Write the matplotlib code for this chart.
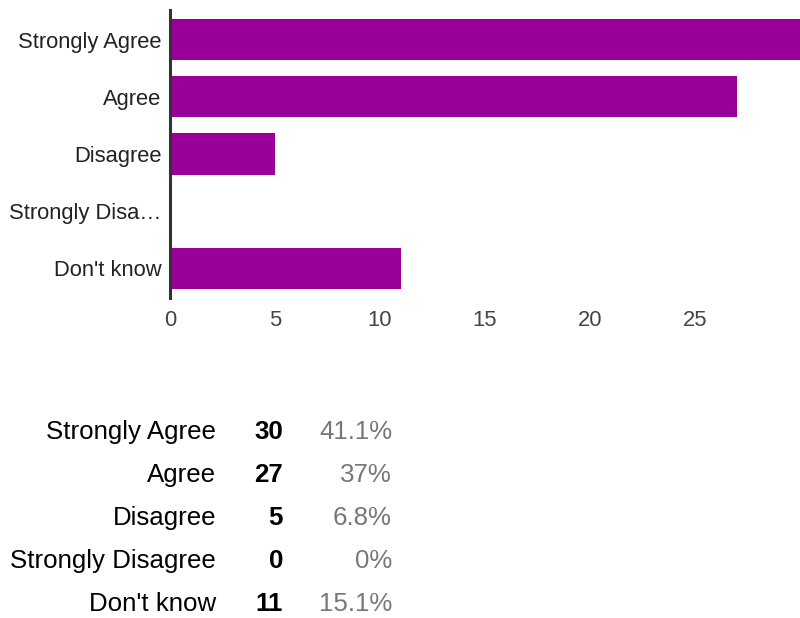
import matplotlib.pyplot as plt

plt.rcParams['font.family'] = ['Liberation Sans', 'DejaVu Sans']

categories = ['Strongly Agree', 'Agree', 'Disagree', 'Strongly Disagree', "Don't know"]
tick_labels = ['Strongly Agree', 'Agree', 'Disagree', 'Strongly Disa\u2026', "Don't know"]
counts = [30, 27, 5, 0, 11]
percents = ['41.1%', '37%', '6.8%', '0%', '15.1%']

fig = plt.figure(figsize=(8, 6.18), dpi=100)
ax = fig.add_axes([170/800, 1 - 298/618, 630/800, 288/618])

ypos = list(range(len(categories)))
ax.barh(ypos, counts, height=0.72, color='#990099')
ax.set_xlim(0, 30)
ax.set_ylim(4.52, -0.52)
ax.set_yticks(ypos)
ax.set_yticklabels(tick_labels, fontsize=15.8, color='#222222')
ax.set_xticks([0, 5, 10, 15, 20, 25])
ax.tick_params(axis='x', length=0, pad=9, labelsize=15.8, labelcolor='#444444')
ax.tick_params(axis='y', length=0, pad=6)
for s in ['top', 'right', 'bottom']:
    ax.spines[s].set_visible(False)
ax.spines['left'].set_color('#333333')
ax.spines['left'].set_linewidth(2.2)

# summary table below the chart
row_y = [432, 475, 518, 561, 604]
for name, c, p, y in zip(categories, counts, percents, row_y):
    fy = 1 - y / 618
    fig.text(216/800, fy, name, ha='right', va='center', fontsize=18.6, color='#000000')
    fig.text(283/800, fy, str(c), ha='right', va='center', fontsize=18.6,
             fontweight='bold', color='#000000')
    fig.text(392/800, fy, p, ha='right', va='center', fontsize=18.6, color='#777777')

fig.savefig('out.png', dpi=100)
